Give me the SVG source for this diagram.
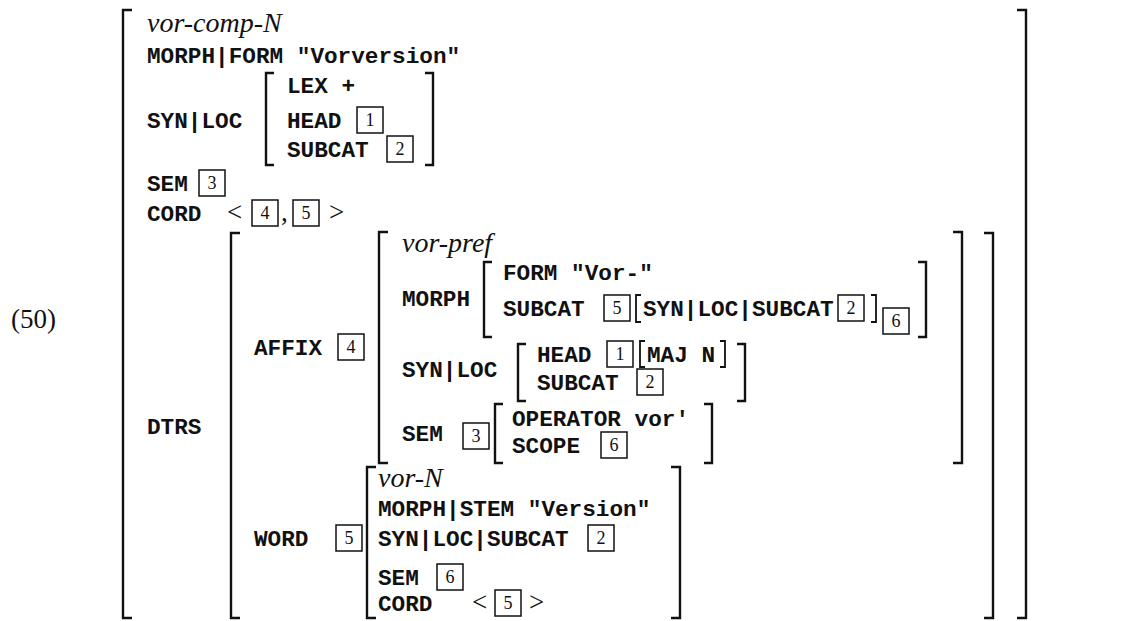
<svg xmlns="http://www.w3.org/2000/svg" width="1148" height="621" viewBox="0 0 1148 621">
<style>
.m{font-family:"Liberation Mono",monospace;font-weight:bold;font-size:22.7px;fill:#111}
.i{font-family:"Liberation Serif",serif;font-style:italic;font-size:28px;fill:#111}
.n{font-family:"Liberation Serif",serif;font-size:18px;fill:#111;text-anchor:middle}
.s{font-family:"Liberation Serif",serif;font-size:27px;fill:#111}
.br{fill:none;stroke:#111;stroke-width:2.4}
.sb{fill:none;stroke:#111;stroke-width:1.8}
.bx{fill:none;stroke:#111;stroke-width:1.5}
</style>
<rect width="1148" height="621" fill="#fff"/>
<text class="s" x="11" y="328">(50)</text>

<g id="brackets">
<!-- outer -->
<path class="br" d="M132 10H123V618H132"/>
<path class="br" d="M1017 10H1026V618H1017"/>
<!-- top SYN|LOC -->
<path class="br" d="M274 73H266V165H274"/>
<path class="br" d="M425 73H433V165H425"/>
<!-- DTRS value -->
<path class="br" d="M240 233H231V618H240"/>
<path class="br" d="M984 233H993V618H984"/>
<!-- AFFIX value -->
<path class="br" d="M388 232H379V463H388"/>
<path class="br" d="M953 232H962V463H953"/>
<!-- MORPH value -->
<path class="br" d="M492 262H484V337H492"/>
<path class="br" d="M918 262H926V337H918"/>
<!-- SYN|LOC value -->
<path class="br" d="M526 344H518V401H526"/>
<path class="br" d="M737 344H745V401H737"/>
<!-- SEM value -->
<path class="br" d="M503 404H495V463H503"/>
<path class="br" d="M704 404H712V463H704"/>
<!-- WORD value -->
<path class="br" d="M376 467H367V618H376"/>
<path class="br" d="M671 467H680V618H671"/>
<!-- small inline brackets -->
<path class="sb" d="M641 295H636V322H641"/>
<path class="sb" d="M871 295H876V322H871"/>
<path class="sb" d="M645 341H640V367H645"/>
<path class="sb" d="M720 341H725V367H720"/>
</g>

<g id="top">
<text class="i" x="147" y="32">vor-comp-N</text>
<text class="m" x="147" y="63">MORPH|FORM "Vorversion"</text>
<text class="m" x="147" y="128">SYN|LOC</text>
<text class="m" x="287" y="93">LEX +</text>
<text class="m" x="287" y="128">HEAD</text>
<rect class="bx" x="357" y="107" width="26" height="26"/><text class="n" x="370" y="126">1</text>
<text class="m" x="287" y="157">SUBCAT</text>
<rect class="bx" x="387" y="136" width="26" height="26"/><text class="n" x="400" y="155">2</text>
<text class="m" x="147" y="191">SEM</text>
<rect class="bx" x="199" y="170" width="26" height="26"/><text class="n" x="212" y="189">3</text>
<text class="m" x="147" y="221">CORD</text>
<text class="s" x="227" y="221">&lt;</text>
<rect class="bx" x="252" y="200" width="26" height="26"/><text class="n" x="265" y="219">4</text>
<text class="s" x="281" y="221">,</text>
<rect class="bx" x="293" y="200" width="26" height="26"/><text class="n" x="306" y="219">5</text>
<text class="s" x="329" y="221">&gt;</text>
<text class="m" x="147" y="434">DTRS</text>
</g>

<g id="affix">
<text class="m" x="254" y="355">AFFIX</text>
<rect class="bx" x="338" y="334" width="26" height="26"/><text class="n" x="351" y="353">4</text>
<text class="i" x="402" y="252">vor-pref</text>
<text class="m" x="402" y="306">MORPH</text>
<text class="m" x="503" y="280">FORM "Vor-"</text>
<text class="m" x="503" y="316">SUBCAT</text>
<rect class="bx" x="604" y="295" width="26" height="26"/><text class="n" x="617" y="314">5</text>
<text class="m" x="643" y="316">SYN|LOC|SUBCAT</text>
<rect class="bx" x="838" y="295" width="26" height="26"/><text class="n" x="851" y="314">2</text>
<rect class="bx" x="883" y="308" width="26" height="26"/><text class="n" x="896" y="327">6</text>
<text class="m" x="402" y="377">SYN|LOC</text>
<text class="m" x="537" y="362">HEAD</text>
<rect class="bx" x="607" y="341" width="26" height="26"/><text class="n" x="620" y="360">1</text>
<text class="m" x="647" y="362">MAJ N</text>
<text class="m" x="537" y="390">SUBCAT</text>
<rect class="bx" x="637" y="369" width="26" height="26"/><text class="n" x="650" y="388">2</text>
<text class="m" x="402" y="441">SEM</text>
<rect class="bx" x="463" y="423" width="26" height="26"/><text class="n" x="476" y="442">3</text>
<text class="m" x="512" y="426">OPERATOR vor′</text>
<text class="m" x="512" y="453">SCOPE</text>
<rect class="bx" x="601" y="432" width="26" height="26"/><text class="n" x="614" y="451">6</text>
</g>

<g id="word">
<text class="m" x="254" y="546">WORD</text>
<rect class="bx" x="336" y="525" width="26" height="26"/><text class="n" x="349" y="544">5</text>
<text class="i" x="378" y="487">vor-N</text>
<text class="m" x="378" y="516">MORPH|STEM "Version"</text>
<text class="m" x="378" y="546">SYN|LOC|SUBCAT</text>
<rect class="bx" x="588" y="525" width="26" height="26"/><text class="n" x="601" y="544">2</text>
<text class="m" x="378" y="585">SEM</text>
<rect class="bx" x="437" y="564" width="26" height="26"/><text class="n" x="450" y="583">6</text>
<text class="m" x="378" y="611">CORD</text>
<text class="s" x="472" y="611">&lt;</text>
<rect class="bx" x="495" y="590" width="26" height="26"/><text class="n" x="508" y="609">5</text>
<text class="s" x="529" y="611">&gt;</text>
</g>
</svg>
